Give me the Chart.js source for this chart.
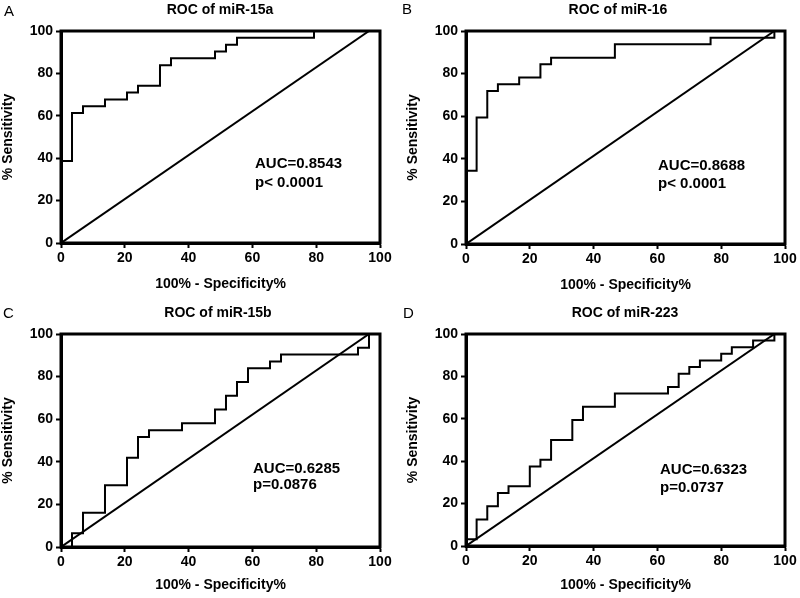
<!DOCTYPE html>
<html>
<head>
<meta charset="utf-8">
<script src="https://cdn.jsdelivr.net/npm/chart.js@4.4.1/dist/chart.umd.min.js"></script>
<style>
  html,body{margin:0;padding:0;background:#fff;}
  #wrap{position:relative;width:800px;height:598px;overflow:hidden;background:#fff;}
  .pane{position:absolute;}
  canvas{display:block;}
</style>
</head>
<body>
<div id="wrap">
  <div class="pane" style="left:0;top:0;width:400px;height:300px;"><canvas id="cA" width="400" height="300"></canvas></div>
  <div class="pane" style="left:400px;top:0;width:400px;height:300px;"><canvas id="cB" width="400" height="300"></canvas></div>
  <div class="pane" style="left:0;top:300px;width:400px;height:298px;"><canvas id="cC" width="400" height="298"></canvas></div>
  <div class="pane" style="left:400px;top:300px;width:400px;height:298px;"><canvas id="cD" width="400" height="298"></canvas></div>
</div>
<script>
// ---- data (100% - Specificity%, % Sensitivity) ----
const axisTicks = [0, 20, 40, 60, 80, 100];

const titles = ["ROC of miR-15a", "ROC of miR-16", "ROC of miR-15b", "ROC of miR-223"];
const letters = ["A", "B", "C", "D"];
const aucLabels = ["AUC=0.8543", "AUC=0.8688", "AUC=0.6285", "AUC=0.6323"];
const pLabels = ["p< 0.0001", "p< 0.0001", "p=0.0876", "p=0.0737"];

const fprA = [0,0,3.45,3.45,6.9,6.9,13.79,13.79,20.69,20.69,24.14,24.14,31.03,31.03,34.48,34.48,48.28,48.28,51.72,51.72,55.17,55.17,79.31,79.31,96.55];
const tprA = [0,38.71,38.71,61.29,61.29,64.52,64.52,67.74,67.74,70.97,70.97,74.19,74.19,83.87,83.87,87.1,87.1,90.32,90.32,93.55,93.55,96.77,96.77,100,100];

const fprB = [0,0,3.33,3.33,6.67,6.67,10,10,16.67,16.67,23.33,23.33,26.67,26.67,46.67,46.67,76.67,76.67,96.67,96.67];
const tprB = [0,34.38,34.38,59.38,59.38,71.88,71.88,75,75,78.13,78.13,84.38,84.38,87.5,87.5,93.75,93.75,96.88,96.88,100];

const fprC = [0,3.45,3.45,6.9,6.9,13.79,13.79,20.69,20.69,24.14,24.14,27.59,27.59,37.93,37.93,48.28,48.28,51.72,51.72,55.17,55.17,58.62,58.62,65.52,65.52,68.97,68.97,93.1,93.1,96.55,96.55];
const tprC = [0,0,6.45,6.45,16.13,16.13,29.03,29.03,41.94,41.94,51.61,51.61,54.84,54.84,58.06,58.06,64.52,64.52,70.97,70.97,77.42,77.42,83.87,83.87,87.1,87.1,90.32,90.32,93.55,93.55,100];

const fprD = [0,0,3.33,3.33,6.67,6.67,10,10,13.33,13.33,20,20,23.33,23.33,26.67,26.67,33.33,33.33,36.67,36.67,46.67,46.67,63.33,63.33,66.67,66.67,70,70,73.33,73.33,80,80,83.33,83.33,90,90,96.67,96.67];
const tprD = [0,3.13,3.13,12.5,12.5,18.75,18.75,25,25,28.13,28.13,37.5,37.5,40.63,40.63,50,50,59.38,59.38,65.63,65.63,71.88,71.88,75,75,81.25,81.25,84.38,84.38,87.5,87.5,90.63,90.63,93.75,93.75,96.88,96.88,100];

// line of identity end points
const refX = [[0, 96.55], [0, 96.67], [0, 96.55], [0, 96.67]];
const refY = [[0, 100], [0, 100], [0, 100], [0, 100]];

// ---- layout / style ----
const FONT = 'Arial, "Liberation Sans", Helvetica, sans-serif';
Chart.defaults.font.family = FONT;
Chart.defaults.color = '#000';

const panels = [
  {id:'cA', fpr:fprA, tpr:tprA, pad:{left:0,right:20,top:31,bottom:7}, xh:50,
   letter:[4,12], title:[220,10], auc:[255,164,183]},
  {id:'cB', fpr:fprB, tpr:tprB, pad:{left:5,right:15,top:31,bottom:6}, xh:50,
   letter:[2,10], title:[218,10], auc:[258,166,184]},
  {id:'cC', fpr:fprC, tpr:tprC, pad:{left:0,right:20,top:34,bottom:4}, xh:47,
   letter:[3,14], title:[218,13], auc:[253,169,185]},
  {id:'cD', fpr:fprD, tpr:tprD, pad:{left:5,right:15,top:34,bottom:4}, xh:48,
   letter:[3,14], title:[225,13], auc:[260,170,188]}
];

const boxPlugin = {
  id: 'boxAndText',
  afterDraw(chart, args, o) {
    const ctx = chart.ctx, a = chart.chartArea;
    ctx.save();
    ctx.strokeStyle = '#000';
    ctx.lineWidth = 3;
    ctx.strokeRect(a.left, a.top, a.right - a.left, a.bottom - a.top);
    ctx.fillStyle = '#000';
    ctx.textBaseline = 'middle';
    // panel letter
    ctx.font = '15px ' + FONT;
    ctx.textAlign = 'left';
    ctx.fillText(o.letter, o.lpos[0], o.lpos[1]);
    // title
    ctx.font = 'bold 14px ' + FONT;
    ctx.textAlign = 'center';
    ctx.fillText(o.title, o.tpos[0], o.tpos[1]);
    // AUC text
    ctx.font = 'bold 15px ' + FONT;
    ctx.textAlign = 'left';
    ctx.fillText(o.auc, o.apos[0], o.apos[1]);
    ctx.fillText(o.p, o.apos[0], o.apos[2]);
    ctx.restore();
  }
};

panels.forEach((p, i) => {
  const curve = p.fpr.map((x, k) => ({x: x, y: p.tpr[k]}));
  const diag = refX[i].map((x, k) => ({x: x, y: refY[i][k]}));
  const tickFont = {size: 14, weight: 'bold', family: FONT};
  const gridCfg = {display: true, drawOnChartArea: false, drawTicks: true, tickLength: 5, tickWidth: 2, tickColor: '#000', color: '#000'};
  new Chart(document.getElementById(p.id), {
    type: 'scatter',
    data: {
      datasets: [
        {data: curve, showLine: true, borderColor: '#000', borderWidth: 2, pointRadius: 0, tension: 0, fill: false},
        {data: diag, showLine: true, borderColor: '#000', borderWidth: 2, pointRadius: 0, tension: 0, fill: false}
      ]
    },
    options: {
      responsive: false,
      animation: false,
      devicePixelRatio: 1,
      layout: {padding: p.pad},
      plugins: {
        legend: {display: false},
        tooltip: {enabled: false},
        title: {display: false},
        boxAndText: {letter: letters[i], lpos: p.letter, title: titles[i], tpos: p.title,
                     auc: aucLabels[i], p: pLabels[i], apos: p.auc}
      },
      scales: {
        x: {
          type: 'linear', min: 0, max: 100,
          afterBuildTicks: s => { s.ticks = axisTicks.map(v => ({value: v})); },
          afterFit: s => { s.height = p.xh; },
          ticks: {font: tickFont, color: '#000', padding: 2, maxRotation: 0},
          grid: gridCfg,
          border: {display: true, color: '#000', width: 3},
          title: {display: true, text: '100% - Specificity%', font: {size: 14, weight: 'bold', family: FONT}, color: '#000', padding: 0}
        },
        y: {
          type: 'linear', min: 0, max: 100,
          afterBuildTicks: s => { s.ticks = axisTicks.map(v => ({value: v})); },
          afterFit: s => { s.width = 61; },
          ticks: {font: tickFont, color: '#000', padding: 3},
          grid: gridCfg,
          border: {display: true, color: '#000', width: 3},
          title: {display: true, text: '% Sensitivity', font: {size: 14, weight: 'bold', family: FONT}, color: '#000', padding: 0}
        }
      }
    },
    plugins: [boxPlugin]
  });
});
</script>
</body>
</html>
